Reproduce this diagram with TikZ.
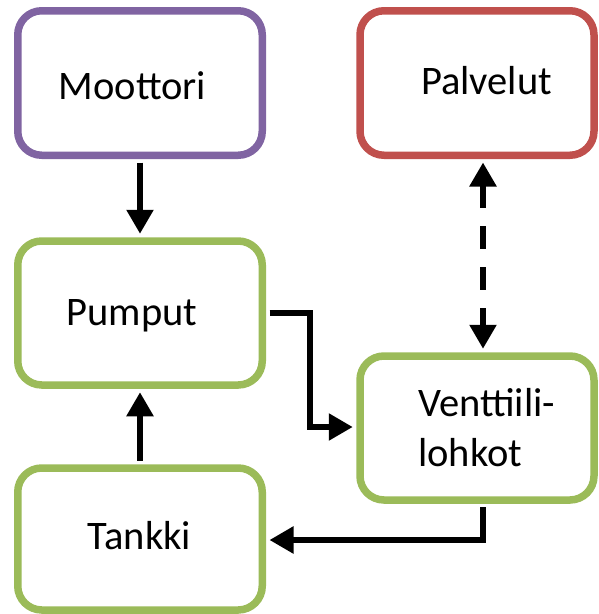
\documentclass[tikz,border=0pt]{standalone}
\usepackage{fontspec}
\setmainfont{Carlito}
\usetikzlibrary{arrows.meta}

\definecolor{boxpurple}{HTML}{8064A2}
\definecolor{boxred}{HTML}{C0504D}
\definecolor{boxgreen}{HTML}{9BBB59}

\tikzset{
  box/.style={draw=#1, line width=7.5pt, rounded corners=24pt, fill=white,
    rectangle, inner sep=0pt},
  lbl/.style={font=\fontsize{40.5}{48}\selectfont, inner sep=0pt, text=black},
  tip/.style={Triangle[length=24pt,width=26pt]},
  flow/.style={line width=5.5pt, -{Triangle[length=24pt,width=26pt]},
    shorten >=3.5pt, shorten <=3.5pt},
  both/.style={line width=5.5pt,
    {Triangle[length=24pt,width=26pt]}-{Triangle[length=24pt,width=26pt]},
    shorten >=3.5pt, shorten <=3.5pt, dash pattern=on 23pt off 18pt}
}

\begin{document}
\begin{tikzpicture}[x=1pt,y=-1pt]
  \useasboundingbox (0,0) rectangle (598,614);

  % boxes
  \node[box=boxpurple, minimum width=244.5pt, minimum height=144.5pt] (moottori) at (140,83) {};
  \node[box=boxred,    minimum width=234pt,   minimum height=144.5pt] (palvelut) at (477,83) {};
  \node[box=boxgreen,  minimum width=244.5pt, minimum height=144pt]   (pumput)   at (140,313) {};
  \node[box=boxgreen,  minimum width=234pt,   minimum height=144pt]   (ventt)    at (477,428) {};
  \node[box=boxgreen,  minimum width=244.5pt, minimum height=142pt]   (tankki)   at (140,539) {};

  % labels
  \node[lbl, anchor=base] (moottoriT) at (132.5,99) {Moottori};
  \node[lbl, anchor=base] (palvelutT) at (486.5,94) {Palvelut};
  \node[lbl, anchor=base] (pumputT)   at (132,325)  {Pumput};
  \node[lbl, anchor=base] (tankkiT)   at (139.5,549) {Tankki};
  \node[lbl, anchor=base west] (venttT1) at (418,416) {Venttiili-};
  \node[lbl, anchor=base west] (venttT2) at (418,466) {lohkot};

  % connectors
  \draw[flow] (moottori.south) -- (pumput.north);
  \draw[flow] (tankki.north) -- (pumput.south);
  \draw[flow] (pumput.east |- 0,313) -- (310,313) |- (ventt.west |- 0,427);
  \draw[flow] ([xshift=6pt]ventt.south) |- (tankki.east |- 0,540);
  \draw[both] ([xshift=6pt]palvelut.south) -- ([xshift=6pt]ventt.north);
\end{tikzpicture}
\end{document}
